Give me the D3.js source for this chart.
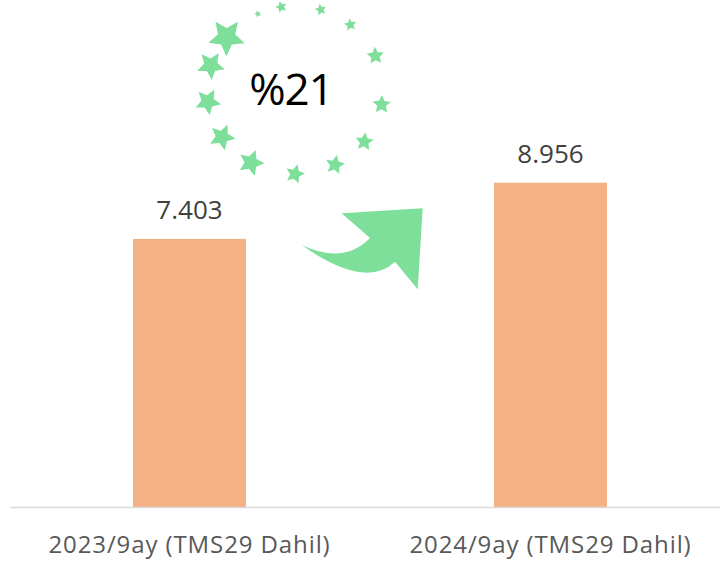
<!DOCTYPE html>
<html>
<head>
<meta charset="utf-8">
<script src="https://cdn.jsdelivr.net/npm/d3@7"></script>
<style>
  body { margin: 0; background: #fff; }
  svg { display: block; font-family: "Open Sans", sans-serif; }
</style>
</head>
<body>
<script>
(function() {

  // chart data
  var categories = ["2023/9ay (TMS29 Dahil)", "2024/9ay (TMS29 Dahil)"];
  var values = [7.403, 8.956];
  var valueLabels = ["7.403", "8.956"];
  var growthLabel = "%21";

  // decorative star ring: angle (deg, clockwise from right) and star size
  var starAngles = [-115, -99, -73, -51, -24, 10, 38, 63, 90, 120, 146, 172, 197, 219];
  var starSizes  = [3.5, 6, 6, 6.5, 9, 9.5, 9.5, 10, 10, 13.5, 13.5, 13.5, 14.5, 19];

  var width = 720, height = 567;

  var svg = d3.select("body").append("svg")
      .attr("width", width)
      .attr("height", height);

  var x = d3.scaleBand()
      .domain(categories)
      .range([9, 731])
      .paddingInner(0.687)
      .paddingOuter(0.3435);

  var y = d3.scaleLinear()
      .domain([0, 14])
      .range([507, 0]);

  // bars
  svg.selectAll(".bar")
      .data(values)
    .enter().append("rect")
      .attr("class", "bar")
      .attr("x", function(d, i) { return x(categories[i]); })
      .attr("y", function(d) { return y(d); })
      .attr("width", x.bandwidth())
      .attr("height", function(d) { return y(0) - y(d); })
      .style("fill", "#f4b183");

  // axis line
  svg.append("line")
      .attr("x1", 10).attr("x2", width)
      .attr("y1", y(0) + 0.5).attr("y2", y(0) + 0.5)
      .style("stroke", "#d9d9d9")
      .style("stroke-width", 1.5);

  // value labels
  svg.selectAll(".val")
      .data(values)
    .enter().append("text")
      .attr("class", "val")
      .attr("x", function(d, i) { return x(categories[i]) + x.bandwidth() / 2; })
      .attr("y", function(d) { return y(d) - 20; })
      .attr("text-anchor", "middle")
      .style("font-size", "26px")
      .style("fill", "#404040")
      .text(function(d, i) { return valueLabels[i]; });

  // category labels
  svg.selectAll(".cat")
      .data(categories)
    .enter().append("text")
      .attr("class", "cat")
      .attr("x", function(d) { return x(d) + x.bandwidth() / 2; })
      .attr("y", 553)
      .attr("text-anchor", "middle")
      .style("font-size", "24px")
      .style("letter-spacing", "0.9px")
      .style("fill", "#595959")
      .text(function(d) { return d; });

  /*
   *  D E C O R A T I O N
   */
  var green = "#7ddf99";

  // star ring around the growth label
  var cx = 295, cy = 90, rx = 88, ry = 84;
  function starPath(r) {
    var pts = [];
    for (var k = 0; k < 10; k++) {
      var a = -Math.PI / 2 + k * Math.PI / 5;
      var rr = k % 2 === 0 ? r : r * 0.48;
      pts.push([rr * Math.cos(a), rr * Math.sin(a)]);
    }
    return "M" + pts.join("L") + "Z";
  }

  svg.selectAll(".star")
      .data(starAngles)
    .enter().append("path")
      .attr("class", "star")
      .attr("d", function(d, i) { return starPath(starSizes[i]); })
      .attr("transform", function(d, i) {
        var a = d * Math.PI / 180;
        return "translate(" + (cx + rx * Math.cos(a)) + "," + (cy + ry * Math.sin(a)) + ")rotate(" + (d / 6) + ")";
      })
      .style("fill", green);

  svg.append("text")
      .attr("x", 291)
      .attr("y", 105)
      .attr("text-anchor", "middle")
      .style("font-size", "44px")
      .style("letter-spacing", "-1px")
      .style("fill", "#000")
      .text(growthLabel);

  // curved arrow between bars
  svg.append("path")
      .attr("d", "M301.7,245 Q344,265 370,238 L341.7,213.3 L422.7,208.3 L417.7,289.3 L395,261.7 Q365,290 301.7,245 Z")
      .style("fill", green);

})();
</script>
</body>
</html>
